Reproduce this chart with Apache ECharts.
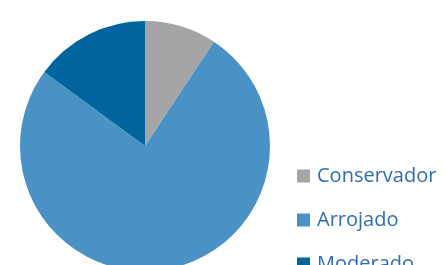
<!DOCTYPE html>
<html>
<head>
<meta charset="utf-8">
<script src="https://cdn.jsdelivr.net/npm/echarts@6/dist/echarts.min.js"></script>
<style>
  html, body { margin: 0; padding: 0; background: #fff; }
  #chart { width: 446px; height: 265px; }
</style>
</head>
<body>
<div id="chart"></div>
<script>
const categories = ["Conservador", "Arrojado", "Moderado"];
const values = [9.3, 75.8, 14.9];
const colors = ["#A5A5A5", "#4A92C6", "#00659E"];

const chart = echarts.init(document.getElementById("chart"));
chart.setOption({
  animation: false,
  color: colors,
  legend: {
    orient: "vertical",
    left: 297,
    top: 166,
    height: 300,
    padding: 0,
    itemWidth: 13,
    itemHeight: 13,
    itemGap: 24,
    icon: "rect",
    data: categories,
    textStyle: {
      color: "#2F6EB5",
      fontSize: 20,
      fontFamily: "Open Sans",
      lineHeight: 20,
      padding: [0, 0, 0, 2]
    }
  },
  series: [
    {
      type: "pie",
      center: [145, 146],
      radius: 125,
      startAngle: 90,
      clockwise: true,
      label: { show: false },
      labelLine: { show: false },
      emphasis: { disabled: true },
      data: categories.map((c, i) => ({ name: c, value: values[i] }))
    }
  ]
});
</script>
</body>
</html>
